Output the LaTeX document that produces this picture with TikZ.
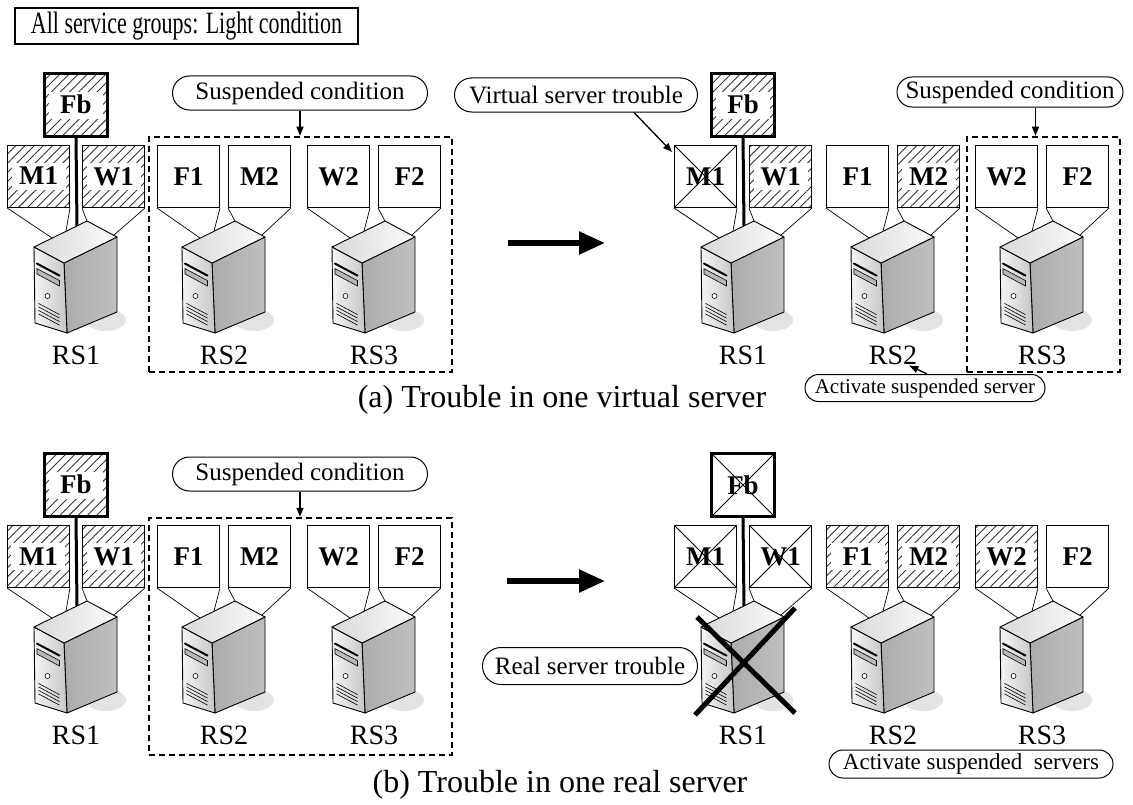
\documentclass[tikz,border=0pt]{standalone}
\usepackage{graphicx}
\usepackage{fontspec}
\setmainfont{Liberation Serif}
\usetikzlibrary{arrows.meta,patterns.meta,calc,shapes.misc}

% white band behind the label of a hatched box
\newcommand\wb[1]{{\setlength\fboxsep{0pt}\colorbox{white}{\makebox[54bp]{\rule[-5bp]{0pt}{27bp}#1}}}}

% one real server with its two virtual servers
% #1 prefix, #2 centre x, #3 vertical offset, #4 half gap,
% #5 style A, #6 text A, #7 style B, #8 text B, #9 server label
\newcommand\rsgroup[9]{%
  \pic (#1s) at (#2,221+#3) {tower};
  \node[vm,#5,anchor=north east] (#1a) at (#2-#4,145+#3) {#6};
  \node[vm,#7,anchor=north west] (#1b) at (#2+#4,145+#3) {#8};
  \draw[link] (#1a.south west) -- (#1s-p1) (#1a.south east) -- (#1s-p2)
              (#1b.south west) -- (#1s-p3) (#1b.south east) -- (#1s-p4);
  \node[rslabel] (#1l) at (#2,355+#3) {#9};
}

\tikzset{
  vm/.style={draw, line width=1bp, fill=white, minimum width=62bp, minimum height=62bp,
    inner sep=0pt, font=\fontsize{27bp}{30bp}\selectfont\bfseries},
  hatch/.style={pattern={Lines[angle=45,distance=6.5bp,line width=0.9bp]}, pattern color=black!80},
  crossed/.style={path picture={\draw[line width=0.8bp]
      (path picture bounding box.north west) -- (path picture bounding box.south east)
      (path picture bounding box.south west) -- (path picture bounding box.north east);}},
  fbox/.style={vm, line width=3bp, minimum width=63bp, minimum height=63bp},
  rslabel/.style={font=\fontsize{28bp}{30bp}\selectfont, inner sep=1bp},
  callout/.style={rounded rectangle, draw, line width=1bp, fill=white,
    font=\fontsize{25bp}{28bp}\selectfont, inner sep=0pt, minimum height=34bp},
  dashbox/.style={draw, line width=2.5bp, dash pattern=on 6bp off 4bp, inner sep=0pt},
  callarrow/.style={line width=1.3bp, -{Triangle[length=9bp,width=7bp]}},
  bigarrow/.style={line width=5.5bp, -{Triangle[length=26bp,width=22bp]}},
  link/.style={line width=0.7bp},
  fbline/.style={line width=3bp},
  xline/.style={line width=5bp},
  caption/.style={font=\fontsize{32bp}{34bp}\selectfont, inner sep=0pt},
  tower/.pic={
    \fill[gray!22] (30,99) ellipse [x radius=20, y radius=11];
    % side face
    \path[draw, line width=0.9bp, line join=round, left color=gray!65, middle color=gray!8, right color=gray!50]
      (-12,42) -- (41,16) -- (41,91) -- (-9,112) -- cycle;
    % front face
    \path[draw, line width=0.9bp, line join=round, left color=gray!8, right color=gray!45]
      (-42,26) -- (-12,42) -- (-9,112) -- (-41,102) -- cycle;
    % top face
    \path[draw, line width=0.9bp, line join=round, left color=gray!30, right color=gray!3]
      (-42,26) -- (11,0) -- (41,16) -- (-12,42) -- cycle;
    % drive bays, button and vents
    \draw[line width=2bp, line cap=round] (-39,42.6) -- (-16.5,54.6);
    \path[draw, line width=0.6bp, fill=gray!55] (-39,47.6) -- (-16.5,59.6) -- (-16.5,65) -- (-39,53) -- cycle;
    \draw[line width=0.6bp, fill=white] (-28.5,75) circle [radius=2.5];
    \foreach \v in {54,57.5,61,64.5} \draw[line width=0.6bp] (-37.5,28.4+\v) -- (-16.5,39.6+\v);
    \coordinate (-p1) at (-24,17);
    \coordinate (-p2) at (-10,10);
    \coordinate (-p3) at (11,0);
    \coordinate (-p4) at (38,14);
    \coordinate (-pf) at (1,5);
  }
}

\begin{document}
\begin{tikzpicture}[x=1bp,y=-1bp]
\useasboundingbox (0,0) rectangle (1133,805);

% heading
\node[draw, line width=1.2bp, minimum width=343bp, minimum height=36bp, inner sep=0pt]
  (title) at (186.5,26) {\scalebox{0.71}[1]{\fontsize{31bp}{33bp}\selectfont All service groups: Light condition}};

% ---------------- (a) left: normal state ----------------
\node[dashbox, minimum width=303bp, minimum height=235bp] (adash) at (300.5,254.5) {};
\rsgroup{a1}{76}{0}{6}{hatch}{\wb{M1}}{hatch}{\wb{W1}}{RS1}
\rsgroup{a2}{224}{0}{4}{}{F1}{}{M2}{RS2}
\rsgroup{a3}{374}{0}{4}{}{W2}{}{F2}{RS3}
\node[fbox, hatch, anchor=north] (aFb) at (76,72) {\wb{Fb}};
\draw[fbline] (aFb.south) -- (a1s-pf);
\node[callout, minimum width=255bp] (asusp) at (300,93) {Suspended condition};
\draw[callarrow] (asusp.south) -- (asusp.south |- adash.north);

% ---------------- (a) right: one virtual server fails ----------------
\coordinate (ga1) at (508,243);
\coordinate (ga2) at (605,243);
\draw[bigarrow] (ga1) -- (ga2);
\node[dashbox, minimum width=153bp, minimum height=235bp] (rdash) at (1043.5,254.5) {};
\rsgroup{r1}{743}{0}{6}{crossed}{M1}{hatch}{\wb{W1}}{RS1}
\rsgroup{r2}{893}{0}{4}{}{F1}{hatch}{\wb{M2}}{RS2}
\rsgroup{r3}{1042}{0}{4}{}{W2}{}{F2}{RS3}
\node[fbox, hatch, anchor=north] (rFb) at (743,72) {\wb{Fb}};
\draw[fbline] (rFb.south) -- (r1s-pf);
\node[callout, minimum width=243bp] (vst) at (576,95) {Virtual server trouble};
\draw[callarrow] ([xshift=58bp]vst.south) -- ($(r1a.north west)+(-2,7)$);
\node[callout, minimum width=226bp, minimum height=30bp] (rsusp) at (1010,92) {Suspended condition};
\draw[callarrow] ([xshift=-8bp]rdash.north |- rsusp.south) -- ([xshift=-8bp]rdash.north);
\node[callout, minimum width=240bp, minimum height=27bp, font=\fontsize{21bp}{23bp}\selectfont]
  (ract) at (925,388) {Activate suspended server};
\draw[callarrow] ([xshift=2bp]ract.north) -- ([xshift=-9bp]r2l.south east);

\node[caption] (capa) at (562,400) {(a) Trouble in one virtual server};

% ---------------- (b) left: normal state ----------------
\node[dashbox, minimum width=303bp, minimum height=237bp] (bdash) at (300.5,636.5) {};
\rsgroup{b1}{76}{380}{6}{hatch}{\wb{M1}}{hatch}{\wb{W1}}{RS1}
\rsgroup{b2}{224}{380}{4}{}{F1}{}{M2}{RS2}
\rsgroup{b3}{374}{380}{4}{}{W2}{}{F2}{RS3}
\node[fbox, hatch, anchor=north] (bFb) at (76,452) {\wb{Fb}};
\draw[fbline] (bFb.south) -- (b1s-pf);
\node[callout, minimum width=255bp] (bsusp) at (300,474) {Suspended condition};
\draw[callarrow] (bsusp.south) -- (bsusp.south |- bdash.north);

% ---------------- (b) right: one real server fails ----------------
\coordinate (gb1) at (507,581);
\coordinate (gb2) at (605,581);
\draw[bigarrow] (gb1) -- (gb2);
\rsgroup{c1}{743}{380}{6}{crossed}{M1}{crossed}{W1}{RS1}
\rsgroup{c2}{893}{380}{4}{hatch}{\wb{F1}}{hatch}{\wb{M2}}{RS2}
\rsgroup{c3}{1042}{380}{4}{hatch}{\wb{W2}}{}{F2}{RS3}
\node[fbox, crossed, anchor=north] (cFb) at (743,452) {Fb};
\draw[fbline] (cFb.south) -- (c1s-pf);
\node[callout, minimum width=215bp, minimum height=37bp] (rst) at (590,666) {Real server trouble};
\coordinate (x1) at (697,617);
\coordinate (x2) at (795,713);
\coordinate (x3) at (695,715);
\coordinate (x4) at (795,608);
\draw[xline] (x1) -- (x2) (x3) -- (x4);
\node[callout, minimum width=284bp, minimum height=28bp, font=\fontsize{23bp}{25bp}\selectfont]
  (cact) at (971,764) {Activate suspended\ \ servers};

\node[caption] (capb) at (560,785) {(b) Trouble in one real server};
\end{tikzpicture}
\end{document}
